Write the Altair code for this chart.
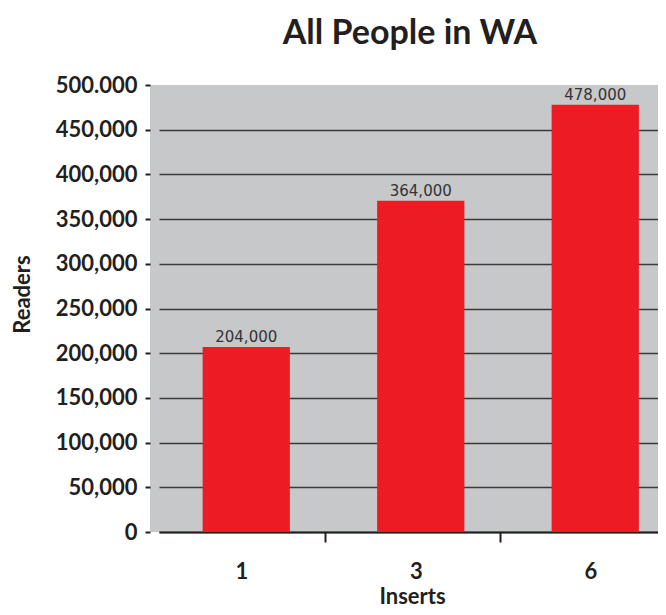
import altair as alt
import pandas as pd

# ---- data ----
inserts = ["1", "3", "6"]
readers = [207000, 370500, 478000]          # bar heights as drawn
value_labels = ["204,000", "364,000", "478,000"]  # printed labels
y_tick_values = [0, 50000, 100000, 150000, 200000, 250000, 300000,
                 350000, 400000, 450000, 500000]
y_tick_labels = ["0", "50,000", "100,000", "150,000", "200,000", "250,000",
                 "300,000", "350,000", "400,000", "450,000", "500.000"]

df = pd.DataFrame({"Inserts": inserts, "Readers": readers, "Label": value_labels})

label_map = "{" + ", ".join(f"'{v}': '{t}'" for v, t in zip(y_tick_values, y_tick_labels)) + "}"
y_label_expr = f"{label_map}[datum.value]"

INK = "#231f20"
W, H = 508, 447

x = alt.X(
    "Inserts:N", sort=inserts, title="Inserts",
    scale=alt.Scale(range=[9, 532.5], paddingInner=0, paddingOuter=0),
    axis=alt.Axis(
        labelAngle=0, labelFont="Lato", labelFontSize=22, labelFontWeight="bold",
        labelColor=INK, labelBaseline="alphabetic", labelPadding=36, labelOffset=3.5,
        domain=True, domainColor=INK, domainWidth=2,
        ticks=True, bandPosition=0, tickOffset=-8.5, tickSize=10, tickWidth=2,
        tickColor=INK,
        tickOpacity={"condition": {"test": "datum.value === '1'", "value": 0}, "value": 1},
        grid=False,
        titleFont="Lato", titleFontSize=22, titleFontWeight="bold", titleColor=INK,
        titleX=262, titleY=71, titleBaseline="alphabetic", titleAlign="center",
    ),
)

y = alt.Y(
    "Readers:Q", title="Readers",
    scale=alt.Scale(domain=[0, 500000], nice=False),
    axis=alt.Axis(
        values=y_tick_values, labelExpr=y_label_expr,
        labelFont="Lato", labelFontSize=22, labelFontWeight="bold", labelColor=INK,
        labelPadding=8, tickSize=5, tickWidth=2, tickColor=INK,
        domain=False, grid=True, gridColor="#3a3a3a", gridWidth=1.5,
        gridOpacity={"condition": {"test": "datum.value >= 500000", "value": 0}, "value": 1},
        titleFont="Lato", titleFontSize=22, titleFontWeight="bold", titleColor=INK,
        titleAngle=-90, titleX=-128, titleY=209, titleAlign="center",
        titleBaseline="middle",
    ),
)

base = alt.Chart(df)
bars = base.mark_bar(color="#ed1c24", width=alt.RelativeBandSize(0.5)).encode(x=x, y=y)
texts = base.mark_text(font="DejaVu Sans", fontSize=15, color="#333333",
                       baseline="alphabetic", dy=-5).encode(
    x=alt.X("Inserts:N", sort=inserts), y="Readers:Q", text="Label:N")

chart = alt.layer(bars, texts).properties(
    width=W, height=H,
    title=alt.TitleParams("All People in WA", font="Lato", fontSize=34,
                          fontWeight="bold", color=INK, anchor="middle",
                          frame="group", dx=6, dy=37, baseline="alphabetic", offset=33),
    autosize=alt.AutoSizeParams(type="none"),
    padding={"left": 142, "top": 77, "right": 0, "bottom": 75},
).configure_view(fill="#c7c8ca", strokeWidth=0)

chart.save("out.html", embed_options={"renderer": "svg", "actions": False})
